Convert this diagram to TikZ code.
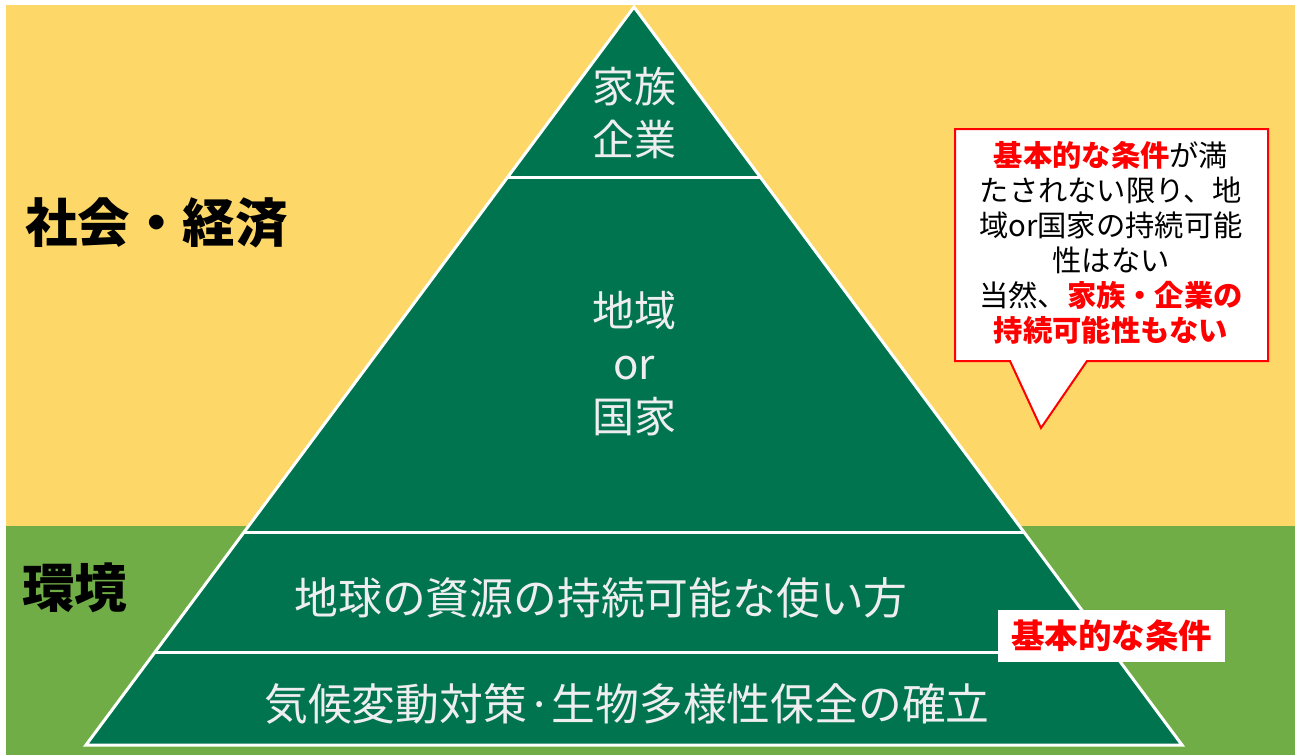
\documentclass[tikz,border=0pt]{standalone}
\usepackage{fontspec}
\setmainfont{Noto Sans CJK JP}
\usetikzlibrary{calc}
\definecolor{bgyellow}{HTML}{FDD868}
\definecolor{bggreen}{HTML}{70AD47}
\definecolor{pyrgreen}{HTML}{00734F}
\definecolor{txtgray}{HTML}{EEEEEE}
\definecolor{alertred}{HTML}{FF0000}
\tikzset{
  pyr/.style={fill=pyrgreen, draw=white, line width=3pt, line join=miter},
  divider/.style={draw=white, line width=3pt},
  pyrtext/.style={text=txtgray, align=center, font=\fontsize{42}{53}\selectfont, inner sep=0pt},
  widetext/.style={text=txtgray, align=center, font=\fontsize{43.8}{53}\selectfont, inner sep=0pt},
  sidelabel/.style={text=black, anchor=west, font=\fontsize{52.5}{56}\selectfont\bfseries, inner sep=0pt},
  callout/.style={fill=white, draw=alertred, line width=2pt, line join=miter},
  callouttext/.style={text=black, align=center, font=\fontsize{29.3}{35}\selectfont, inner sep=0pt},
  tagbox/.style={fill=white, text=alertred, font=\fontsize{33.5}{36}\selectfont\bfseries, minimum width=227pt, minimum height=52pt, inner sep=0pt}
}
\newcommand{\redb}[1]{\textcolor{alertred}{\bfseries #1}}
\begin{document}
\begin{tikzpicture}[x=1pt,y=-1pt]
\useasboundingbox (0,0) rectangle (1295,755);
\fill[white] (0,0) rectangle (1295,755);
\fill[bgyellow] (6,5) rectangle (1295,526);
\fill[bggreen] (6,526) rectangle (1295,755);
% pyramid
\coordinate (apex) at (634,7);
\coordinate (bl) at (86,745);
\coordinate (br) at (1182,745);
\draw[pyr] (apex) -- (bl) -- (br) -- cycle;
\coordinate (d1l) at ($(apex)!0.2304!(bl)$);
\coordinate (d1r) at ($(apex)!0.2304!(br)$);
\coordinate (d2l) at ($(apex)!0.7114!(bl)$);
\coordinate (d2r) at ($(apex)!0.7114!(br)$);
\coordinate (d3l) at ($(apex)!0.8753!(bl)$);
\coordinate (d3r) at ($(apex)!0.8753!(br)$);
\draw[divider] (d1l) -- (d1r);
\draw[divider] (d2l) -- (d2r);
\draw[divider] (d3l) -- (d3r);
% pyramid texts
\node[pyrtext] (top) at (634,113) {家族\\企業};
\node[pyrtext] (mid) at (634,364) {地域\\or\\国家};
\node[widetext] (res) at (601,598) {地球の資源の持続可能な使い方};
\node[widetext] (env) at (627,704) {気候変動対策·生物多様性保全の確立};
% side labels
\node[sidelabel] (soc) at (25,223) {社会・経済};
\node[sidelabel] (kan) at (22,588) {環境};
% callout
\coordinate (cb) at (1041,428);
\draw[callout] (955,129) -- (1268,129) -- (1268,361) -- (1087,361) -- (cb) -- (1010,361) -- (955,361) -- cycle;
\node[callouttext] (note) at (1111,243) {\redb{基本的な条件}が満\\たされない限り、地\\域or国家の持続可能\\性はない\\当然、\redb{家族・企業の}\\\redb{持続可能性もない}};
% tag
\node[tagbox] (tag) at (1111.5,636) {基本的な条件};
\end{tikzpicture}
\end{document}
